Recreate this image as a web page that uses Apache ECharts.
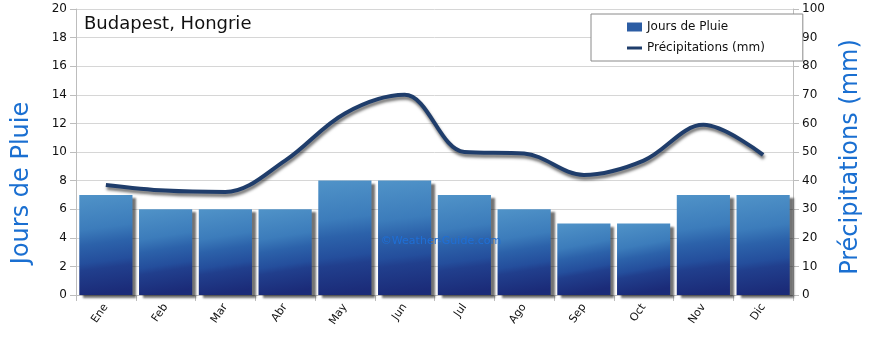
<!DOCTYPE html>
<html><head><meta charset="utf-8">
<script src="https://cdn.jsdelivr.net/npm/echarts@6/dist/echarts.min.js"></script>
<style>html,body{margin:0;padding:0;background:#fff}#c{width:870px;height:339px}</style>
</head><body><div id="c"></div>
<script>
const months = ['Ene','Feb','Mar','Abr','May','Jun','Jul','Ago','Sep','Oct','Nov','Dic'];
const rainDays = [7,6,6,6,8,8,7,6,5,5,7,7];
const precipitation = [38.5,36.5,36,47,63.5,70,50,49.5,42,47,59.5,49];
const leftTicks = [0,2,4,6,8,10,12,14,16,18,20];
const rightTicks = [0,10,20,30,40,50,60,70,80,90,100];

const FONT = "'DejaVu Sans', sans-serif";
const chart = echarts.init(document.getElementById('c'));
chart.setOption({
  animation: false,
  backgroundColor: '#fff',
  grid: {left: 76, right: 77, top: 9, bottom: 44},
  legend: {
    orient: 'vertical', left: 591, top: 14,
    padding: [7, 38, 7, 36],
    borderColor: '#8a8a8a', borderWidth: 1, backgroundColor: '#fff',
    itemGap: 9, itemWidth: 15, itemHeight: 9,
    textStyle: {fontFamily: FONT, fontSize: 12, color: '#111'},
    data: [
      {name: 'Jours de Pluie', icon: 'rect', itemStyle: {color: '#2c5da4'}},
      {name: 'Précipitations (mm)', icon: 'path://M0,3 L20,3 L20,7 L0,7 Z', itemStyle: {color: '#1f3d6b'}}
    ]
  },
  xAxis: {
    type: 'category', data: months,
    axisLine: {lineStyle: {color: '#bdbdbd'}},
    axisTick: {show: true, length: 6, lineStyle: {color: '#bdbdbd'}},
    axisLabel: {rotate: 55, fontFamily: FONT, fontSize: 11, color: '#111', margin: 10}
  },
  yAxis: [
    {type: 'value', min: 0, max: 20, interval: 2,
     axisLine: {show: true, lineStyle: {color: '#bdbdbd'}},
     axisTick: {show: true, length: 6, lineStyle: {color: '#bdbdbd'}},
     axisLabel: {fontFamily: FONT, fontSize: 12, color: '#111', margin: 9,
       formatter: v => leftTicks.includes(v) ? String(v) : ''},
     splitLine: {lineStyle: {color: '#d6d6d6'}}},
    {type: 'value', min: 0, max: 100, interval: 10,
     axisLine: {show: true, lineStyle: {color: '#bdbdbd'}},
     axisTick: {show: true, length: 6, lineStyle: {color: '#bdbdbd'}},
     axisLabel: {fontFamily: FONT, fontSize: 12, color: '#111', margin: 9,
       formatter: v => rightTicks.includes(v) ? String(v) : ''},
     splitLine: {show: false}}
  ],
  graphic: [
    {type: 'text', left: 84, top: 15, style: {text: 'Budapest, Hongrie', font: "18px " + FONT, fill: '#111'}},
    {type: 'text', x: 22, y: 183, rotation: Math.PI / 2, style: {text: 'Jours de Pluie', font: "24px " + FONT, fill: '#1a6fd1', align: 'center', verticalAlign: 'middle'}},
    {type: 'text', x: 851, y: 157, rotation: Math.PI / 2, style: {text: 'Précipitations (mm)', font: "24px " + FONT, fill: '#1a6fd1', align: 'center', verticalAlign: 'middle'}},
    {type: 'text', x: 441, y: 241, z: 100, style: {text: '©Weather-Guide.com', font: "11px " + FONT, fill: '#1f6fd6', align: 'center', verticalAlign: 'middle'}}
  ],
  series: [
    {name: 'Jours de Pluie', type: 'bar', data: rainDays, yAxisIndex: 0,
     barCategoryGap: '11%',
     itemStyle: {
       color: {type: 'linear', x: 0, y: 0, x2: 0.25, y2: 1, colorStops: [
         {offset: 0, color: '#5093c8'},
         {offset: 0.35, color: '#3c7cbb'},
         {offset: 0.5, color: '#2c62aa'},
         {offset: 0.68, color: '#244e9c'},
         {offset: 0.75, color: '#213f8d'},
         {offset: 1, color: '#1b2b78'}]},
       shadowColor: 'rgba(0,0,0,0.55)', shadowOffsetX: 4, shadowOffsetY: 3, shadowBlur: 2
     }},
    {name: 'Précipitations (mm)', type: 'line', data: precipitation, yAxisIndex: 1,
     smooth: 0.35, symbol: 'none', z: 5,
     lineStyle: {color: '#1f3d6b', width: 4, shadowColor: 'rgba(0,0,0,0.55)', shadowOffsetY: 3, shadowOffsetX: 1, shadowBlur: 3}}
  ]
});
</script></body></html>
